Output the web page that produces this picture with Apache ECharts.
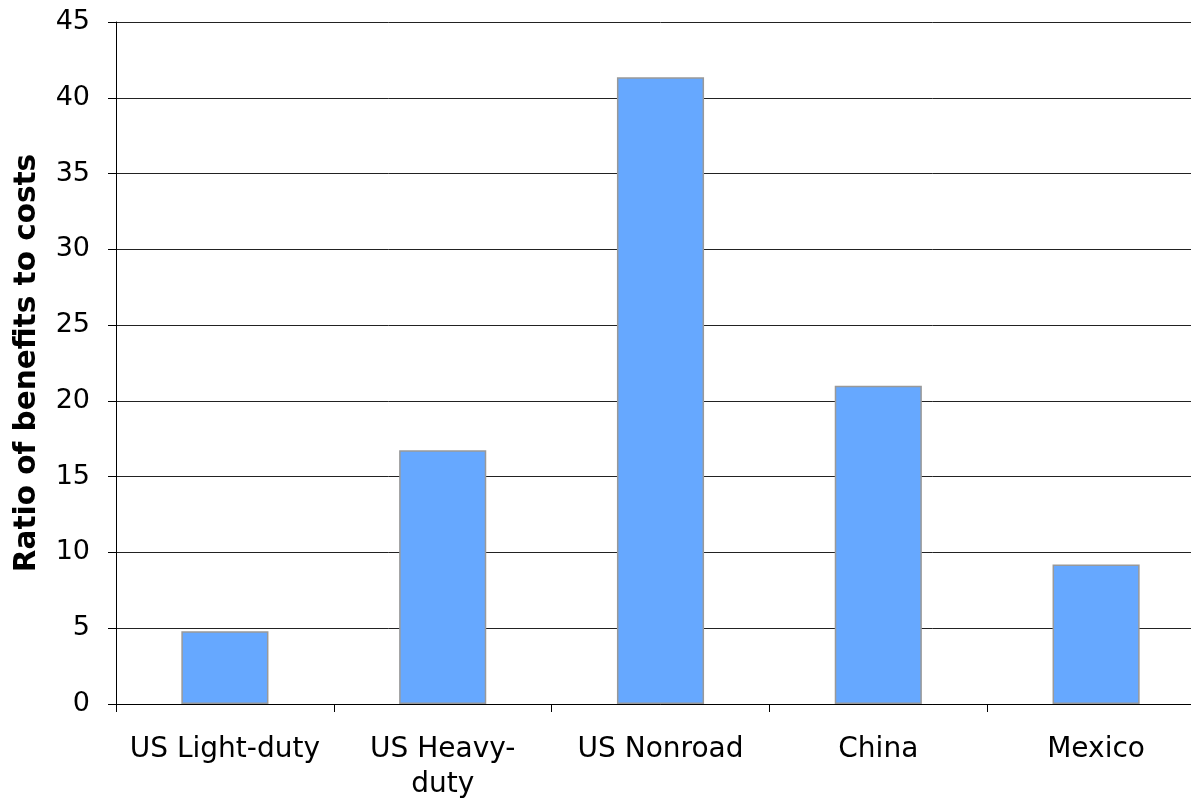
<!DOCTYPE html>
<html>
<head>
<meta charset="utf-8">
<script src="https://cdn.jsdelivr.net/npm/echarts@6/dist/echarts.min.js"></script>
<style>
html, body { margin: 0; padding: 0; background: #fff; overflow: hidden; }
/* plot area runs past the right edge in the original, so the canvas is a bit wider than the window */
#chart { width: 1205px; height: 798px; }
</style>
</head>
<body>
<div id="chart"></div>
<script>
// data
var categories = ['US Light-duty', 'US Heavy-duty', 'US Nonroad', 'China', 'Mexico'];
var ratios = [4.8, 16.75, 41.35, 21.0, 9.2];
var yTicks = [0, 5, 10, 15, 20, 25, 30, 35, 40, 45];

var chart = echarts.init(document.getElementById('chart'));
var font = 'DejaVu Sans, Verdana, sans-serif';

var option = {
    animation: false,
    grid: { left: 116, right: 0, top: 22, bottom: 94, outerBoundsMode: 'none', containLabel: false },
    xAxis: {
        type: 'category',
        data: categories,
        axisLine: { lineStyle: { color: '#000', width: 1 } },
        axisTick: { show: true, length: 8, alignWithLabel: false, lineStyle: { color: '#000' } },
        axisLabel: {
            margin: 28,
            fontFamily: font,
            fontSize: 28,
            color: '#000',
            lineHeight: 35,
            interval: 0,
            formatter: function (v) {
                return v === 'US Heavy-duty' ? 'US Heavy-\nduty' : v;
            }
        }
    },
    yAxis: {
        type: 'value',
        min: yTicks[0],
        max: yTicks[yTicks.length - 1],
        interval: 5,
        name: 'Ratio of benefits to costs',
        nameLocation: 'middle',
        nameRotate: 90,
        nameGap: 74,
        nameTextStyle: { fontFamily: font, fontSize: 29.5, fontWeight: 'bold', color: '#000' },
        axisLine: { show: true, lineStyle: { color: '#000', width: 1 } },
        axisTick: { show: true, length: 8, lineStyle: { color: '#000' } },
        axisLabel: { margin: 26, fontFamily: font, fontSize: 27, color: '#000' },
        splitLine: { show: true, lineStyle: { color: '#222', width: 1 } }
    },
    series: [{
        type: 'bar',
        data: ratios,
        barWidth: '40%',
        itemStyle: { color: '#66A8FF', borderColor: '#999', borderWidth: 1.5 }
    }]
};
chart.setOption(option);
</script>
</body>
</html>
